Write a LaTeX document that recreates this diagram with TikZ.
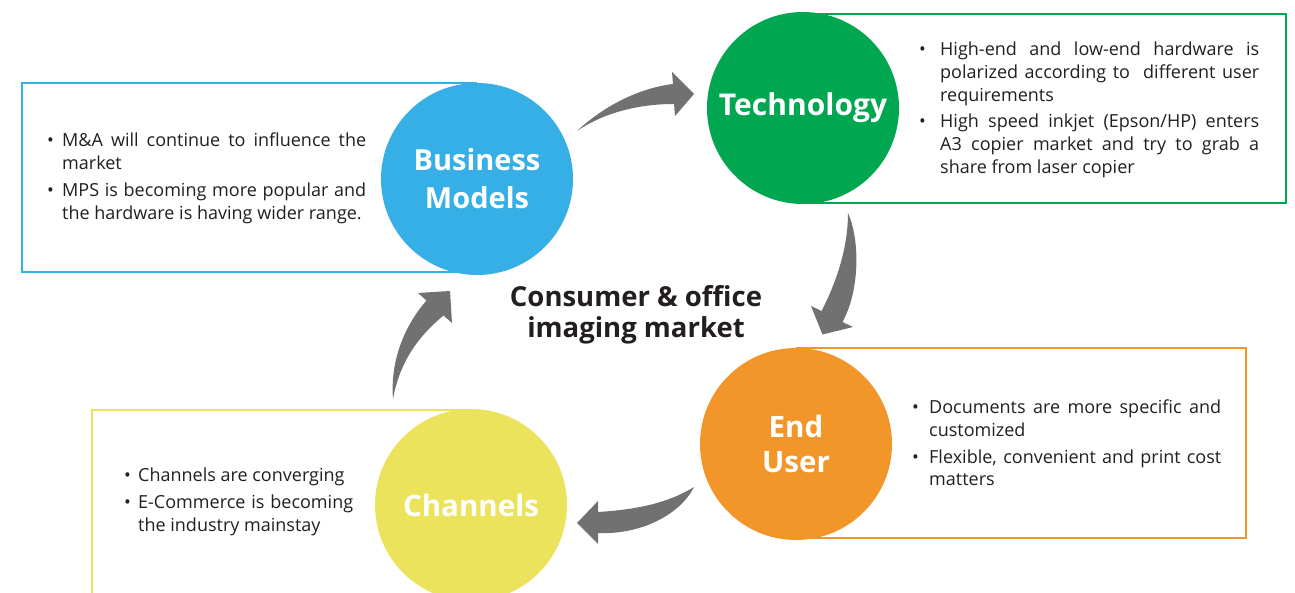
\documentclass[tikz,border=0pt]{standalone}
\usepackage{fontspec}
\setmainfont{Open Sans}
\definecolor{bmblue}{HTML}{35AFE5}
\definecolor{tgreen}{HTML}{00A650}
\definecolor{euorange}{HTML}{F29629}
\definecolor{chyellow}{HTML}{EBE35B}
\definecolor{arrowgray}{HTML}{717171}
\definecolor{ink}{HTML}{231F20}
\newcommand{\bitem}[2]{\noindent\hangindent=#1\hangafter=1\makebox[#1][l]{\textbullet}#2\par}
\tikzset{
  infobox/.style={line width=2.6pt},
  bubble/.style={circle, minimum size=192pt, inner sep=0pt, text=white, align=center,
     font=\fontsize{29}{38}\selectfont\bfseries},
  bodytext/.style={anchor=north west, inner sep=0pt, align=justify, text=ink,
     font=\fontsize{18}{22.5}\selectfont},
  cyclearrow/.style={fill=arrowgray, draw=none}
}
\begin{document}
\begin{tikzpicture}[x=1pt,y=-1pt]
\useasboundingbox[fill=white] (0,0) rectangle (1295,593);
% boxes
\draw[infobox, bmblue] (477,83) -- (22,83) -- (22,272) -- (477,272);
\draw[infobox, tgreen] (803,14) -- (1286,14) -- (1286,203) -- (803,203);
\draw[infobox, euorange] (796,348) -- (1246,348) -- (1246,538) -- (796,538);
\draw[infobox, chyellow] (471,410) -- (92,410) -- (92,610);
% circles
\node[bubble, fill=bmblue] (bm) at (477,179) {Business\\Models};
\node[bubble, fill=tgreen, font=\fontsize{30}{37}\selectfont\bfseries] (tech) at (803,108) {Technology};
\node[bubble, fill=euorange, font=\fontsize{29.5}{35}\selectfont\bfseries] (eu) at (796,444) {End\\User};
\node[bubble, fill=chyellow, font=\fontsize{29.5}{37}\selectfont\bfseries] (ch) at (471,505) {Channels};
% centre label
\node[text=ink, align=center, font=\fontsize{27.5}{31}\selectfont\bfseries] (mkt) at (636,315) {Consumer \& office\\imaging market};
% texts
\node[bodytext, text width=319pt] (bmt) at (47,133) {\setlength{\parskip}{5pt}%
\bitem{15pt}{M\&A will continue to influence the\linebreak market}
\bitem{15pt}{MPS is becoming more popular and\linebreak the hardware is having wider range.}};
\node[bodytext, text width=340pt, font=\fontsize{18}{23}\selectfont] (techt) at (919,42) {\setlength{\parskip}{3pt}%
\bitem{21pt}{High-end and low-end hardware is\linebreak polarized according to\ \ different user\linebreak requirements}
\bitem{21pt}{High speed inkjet (Epson/HP) enters\linebreak A3 copier market and try to grab a\linebreak share from laser copier}};
\node[bodytext, text width=309pt] (eut) at (912,400) {\setlength{\parskip}{4.5pt}%
\bitem{17pt}{Documents are more specific and\linebreak customized}
\bitem{17pt}{Flexible, convenient and print cost\linebreak matters}};
\node[bodytext, text width=229pt] (cht) at (124,468) {\setlength{\parskip}{4.5pt}%
\bitem{14pt}{Channels are converging}
\bitem{14pt}{E-Commerce is becoming\linebreak the industry mainstay}};
% curved arrows
% business models -> technology
\fill[cyclearrow] (577,131) .. controls (605,105) and (640,88) .. (673,84) -- (672,72) -- (694,94)
  -- (675,116) -- (674,104) .. controls (640,104) and (605,112) .. (577,131) -- cycle;
% technology -> end user
\fill[cyclearrow] (848,213) .. controls (860,240) and (860,290) .. (842.5,322) -- (853,327)
  -- (822.5,334.5) -- (811,306) -- (821.5,311) .. controls (835,285) and (848,250) .. (848,213) -- cycle;
% end user -> channels
\fill[cyclearrow] (694,487) .. controls (665,505) and (630,510) .. (598,512) -- (598,501) -- (577,523)
  -- (598,544) -- (598,533) .. controls (640,535) and (680,515) .. (694,487) -- cycle;
% channels -> business models
\fill[cyclearrow] (393,399) .. controls (390,360) and (405,325) .. (426.5,300.5) -- (418,293) -- (450,291)
  -- (452,323) -- (443.5,315.5) .. controls (420,335) and (400,360) .. (393,399) -- cycle;
\end{tikzpicture}
\end{document}
